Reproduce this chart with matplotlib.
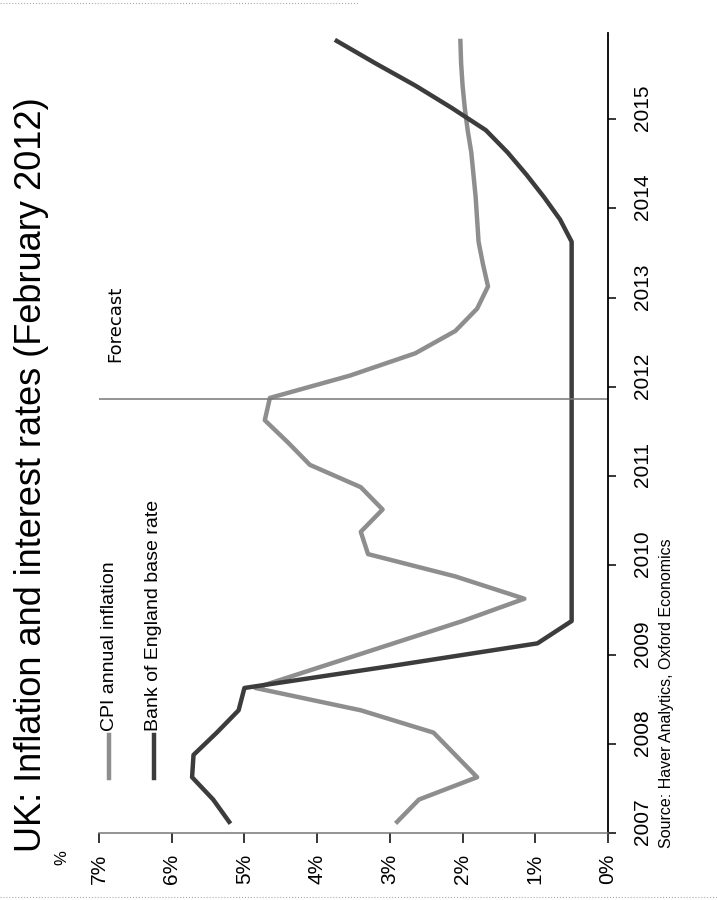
import matplotlib
matplotlib.use("Agg")
import matplotlib.pyplot as plt
import matplotlib.ticker as mticker
from matplotlib.lines import Line2D
import numpy as np

plt.rcParams['font.family'] = ['Liberation Sans', 'DejaVu Sans']

# Quarterly data, plotted at mid-quarter
years = list(range(2007, 2016))
quarters = [(y, q) for y in years for q in range(1, 5)]

cpi = [2.9, 2.6, 1.8, 2.1,
       2.4, 3.4, 4.85, 3.9,
       2.95, 2.0, 1.15, 2.1,
       3.3, 3.4, 3.1, 3.4,
       4.1, 4.4, 4.72, 4.65,
       3.55, 2.65, 2.1, 1.8,
       1.65, 1.72, 1.78, 1.8,
       1.82, 1.85, 1.88, 1.93,
       1.97, 2.0, 2.02, 2.03]

base_rate = [5.21, 5.43, 5.72, 5.70,
             5.38, 5.08, 5.0, 2.95,
             0.97, 0.5, 0.5, 0.5,
             0.5, 0.5, 0.5, 0.5,
             0.5, 0.5, 0.5, 0.5,
             0.5, 0.5, 0.5, 0.5,
             0.5, 0.5, 0.5, 0.66,
             0.88, 1.12, 1.38, 1.68,
             2.15, 2.65, 3.2, 3.73]

pct_ticks = [0, 1, 2, 3, 4, 5, 6, 7]
forecast_start = 2011.86

title = "UK: Inflation and interest rates (February 2012)"
source = "Source: Haver Analytics, Oxford Economics"

t = np.array([y + (q - 0.5) / 4 for y, q in quarters])

cpi_col = "#8e8e8e"
boe_col = "#3c3c3c"

fig = plt.figure(figsize=(7.17, 9), dpi=100)
# chart is drawn rotated 90 degrees: percent runs right->left, time bottom->top
ax = fig.add_axes([99 / 717, 67 / 900, 509 / 717, 800 / 900])

ax.plot(cpi, t, color=cpi_col, lw=3.2, solid_joinstyle='round')
ax.plot(base_rate, t, color=boe_col, lw=3.2, solid_joinstyle='round')
ax.axhline(forecast_start, color="#777777", lw=1.1)

ax.set_xlim(7, 0)
ax.set_ylim(2007, 2015.964)

for s in ["top", "left"]:
    ax.spines[s].set_visible(False)
ax.spines["bottom"].set_color("#777777")
ax.spines["bottom"].set_linewidth(1.1)
ax.spines["right"].set_color("black")
ax.spines["right"].set_linewidth(1.3)

ax.set_xticks(pct_ticks)
ax.set_xticklabels([f"{p}%" for p in pct_ticks], rotation=90)
ax.tick_params(axis="x", direction="out", length=7, width=1.1, pad=8,
               labelsize=15, color="black")

ax.yaxis.tick_right()
ax.set_yticks(years)
ax.yaxis.set_major_formatter(mticker.NullFormatter())
ax.yaxis.set_minor_locator(mticker.FixedLocator([y + 0.125 for y in years]))
ax.yaxis.set_minor_formatter(mticker.FixedFormatter([str(y) for y in years]))
ax.tick_params(axis="y", which="major", direction="out", length=6, width=1.1)
ax.tick_params(axis="y", which="minor", length=0, pad=18, labelsize=15)
for lab in ax.get_yticklabels(minor=True):
    lab.set_rotation(90)
    lab.set_va("center")
    lab.set_ha("left")

# Forecast label
ax.text(0.031, 0.589, "Forecast", transform=ax.transAxes, rotation=90,
        ha="center", va="bottom", fontsize=13, family="DejaVu Sans")

# legend keys drawn by hand (rotated chart)
ax.plot([0.0206, 0.0206], [0.069, 0.123], transform=ax.transAxes,
        color=cpi_col, lw=3.2, clip_on=False)
ax.plot([0.108, 0.108], [0.069, 0.123], transform=ax.transAxes,
        color=boe_col, lw=3.2, clip_on=False)
ax.text(0.0206, 0.128, "CPI annual inflation", transform=ax.transAxes,
        rotation=90, ha="center", va="bottom", fontsize=14)
ax.text(0.108, 0.128, "Bank of England base rate", transform=ax.transAxes,
        rotation=90, ha="center", va="bottom", fontsize=14)

fig.text(32 / 717, 1 - 475 / 900, title, rotation=90, ha="center",
         va="center", fontsize=26)
fig.text(62 / 717, 1 - 858 / 900, "%", rotation=90, ha="center",
         va="center", fontsize=12)
fig.text(666 / 717, 1 - 848 / 900, source, rotation=90, ha="center",
         va="bottom", fontsize=11.5)

# faint scan border lines
fig.add_artist(Line2D([0, 0.5], [0.997, 0.997], transform=fig.transFigure,
                      color="#aaaaaa", lw=0.8, ls=":"))
fig.add_artist(Line2D([0, 1], [0.003, 0.003], transform=fig.transFigure,
                      color="#aaaaaa", lw=0.8, ls=":"))

fig.savefig("out.png", dpi=100)
